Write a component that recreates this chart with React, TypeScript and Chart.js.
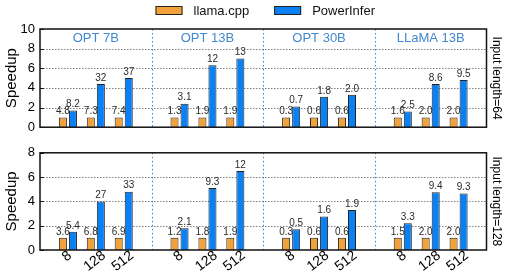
import React, { useEffect, useRef } from 'react';
import { Chart, registerables } from 'chart.js';

Chart.register(...registerables);

const FONT = '"Liberation Sans", Arial, Helvetica, sans-serif';

const models = ['OPT 7B', 'OPT 13B', 'OPT 30B', 'LLaMA 13B'];
const outputLengths = ['8', '128', '512'];
const seriesNames = ['llama.cpp', 'PowerInfer'];
const seriesColors = ['#f2a23a', '#0a80f5'];

// Input length = 64 (speedup relative to llama.cpp, labels are tokens/s)
const llamaSpeedup64 = [1, 1, 1, 1, 1, 1, 1, 1, 1, 1, 1, 1];
const powerInferSpeedup64 = [1.7, 4.4, 5.0, 2.4, 6.3, 7.0, 2.1, 3.1, 3.3, 1.6, 4.4, 4.8];
const llamaTokens64 = ['4.8', '7.3', '7.4', '1.3', '1.9', '1.9', '0.3', '0.6', '0.6', '1.6', '2.0', '2.0'];
const powerInferTokens64 = ['8.2', '32', '37', '3.1', '12', '13', '0.7', '1.8', '2.0', '2.5', '8.6', '9.5'];
const yTicks64 = [0, 2, 4, 6, 8, 10];

// Input length = 128
const llamaSpeedup128 = [1, 1, 1, 1, 1, 1, 1, 1, 1, 1, 1, 1];
const powerInferSpeedup128 = [1.5, 4.0, 4.8, 1.8, 5.1, 6.5, 1.7, 2.75, 3.3, 2.2, 4.75, 4.65];
const llamaTokens128 = ['3.6', '6.8', '6.9', '1.2', '1.8', '1.9', '0.3', '0.6', '0.6', '1.5', '2.0', '2.0'];
const powerInferTokens128 = ['5.4', '27', '33', '2.1', '9.3', '12', '0.5', '1.6', '1.9', '3.3', '9.4', '9.3'];
const yTicks128 = [0, 2, 4, 6, 8];

// slots: one empty boundary slot before each model group and one at the very end
function buildSlotLabels(): string[] {
  const out: string[] = [];
  models.forEach(() => {
    out.push('');
    outputLengths.forEach((l) => out.push(l));
  });
  out.push('');
  return out;
}
function spread<T>(values: T[]): (T | null)[] {
  const out: (T | null)[] = [];
  models.forEach((_, g) => {
    out.push(null);
    outputLengths.forEach((_, k) => out.push(values[g * outputLengths.length + k]));
  });
  out.push(null);
  return out;
}

type PanelProps = {
  top: number;
  height: number;
  padTop: number;
  padBottom: number;
  llama: number[];
  pi: number[];
  llamaLbl: string[];
  piLbl: string[];
  yTicks: number[];
  rightLabel: string;
  showLegend: boolean;
  showTitles: boolean;
  showX: boolean;
};

function Panel(p: PanelProps) {
  const ref = useRef<HTMLCanvasElement>(null);
  useEffect(() => {
    const slotLabels = buildSlotLabels();
    const yMax = p.yTicks[p.yTicks.length - 1];
    const groupSize = outputLengths.length + 1;

    const decor = {
      id: 'decor',
      beforeDatasetsDraw(chart: any) {
        const { ctx, chartArea: a, scales } = chart;
        const x = scales.x, y = scales.y;
        ctx.save();
        ctx.lineWidth = 1;
        ctx.strokeStyle = '#808080';
        ctx.setLineDash([1.5, 1.5]);
        p.yTicks.forEach((t) => {
          if (t === 0 || t === yMax) return;
          const py = Math.round(y.getPixelForValue(t)) + 0.5;
          ctx.beginPath();
          ctx.moveTo(a.left, py);
          ctx.lineTo(a.right, py);
          ctx.stroke();
        });
        ctx.strokeStyle = '#3b84cc';
        ctx.setLineDash([1.5, 2.5]);
        for (let g = 1; g < models.length; g++) {
          const px = Math.round(x.getPixelForValue(g * groupSize)) + 0.5;
          ctx.beginPath();
          ctx.moveTo(px, a.top);
          ctx.lineTo(px, a.bottom);
          ctx.stroke();
        }
        ctx.restore();
      },
      afterDatasetsDraw(chart: any) {
        const { ctx, chartArea: a, scales } = chart;
        const x = scales.x, y = scales.y;
        ctx.save();
        // value labels
        ctx.font = `10px ${FONT}`;
        ctx.fillStyle = '#2a2a2a';
        ctx.textAlign = 'center';
        ctx.textBaseline = 'bottom';
        chart.data.datasets.forEach((ds: any, i: number) => {
          const meta = chart.getDatasetMeta(i);
          meta.data.forEach((el: any, j: number) => {
            const lbl = ds.valueLabels[j];
            if (!lbl) return;
            ctx.fillText(lbl, el.x, el.y - 1);
          });
        });
        // frame
        ctx.strokeStyle = '#111';
        ctx.lineWidth = 1.5;
        ctx.strokeRect(a.left, a.top, a.right - a.left, a.bottom - a.top);
        // inward ticks
        ctx.lineWidth = 1;
        p.yTicks.forEach((t) => {
          const py = Math.round(y.getPixelForValue(t)) + 0.5;
          ctx.beginPath();
          ctx.moveTo(a.left, py);
          ctx.lineTo(a.left + 4, py);
          ctx.stroke();
        });
        // group titles
        if (p.showTitles) {
          ctx.font = `13px ${FONT}`;
          ctx.fillStyle = '#4288cc';
          ctx.textBaseline = 'middle';
          ctx.textAlign = 'center';
          models.forEach((m, g) => {
            const cx = (x.getPixelForValue(g * groupSize) + x.getPixelForValue((g + 1) * groupSize)) / 2;
            ctx.fillText(m, cx, a.top + 9);
          });
        }
        // right label
        ctx.save();
        ctx.font = `12px ${FONT}`;
        ctx.fillStyle = '#000';
        ctx.textAlign = 'center';
        ctx.textBaseline = 'middle';
        ctx.translate(a.right + 10, (a.top + a.bottom) / 2);
        ctx.rotate(Math.PI / 2);
        ctx.fillText(p.rightLabel, 0, 0);
        ctx.restore();
        // x labels
        if (p.showX) {
          ctx.font = `14px ${FONT}`;
          ctx.fillStyle = '#000';
          ctx.textAlign = 'center';
          ctx.textBaseline = 'middle';
          const ang = (38 * Math.PI) / 180;
          slotLabels.forEach((l, i) => {
            if (!l) return;
            const w = ctx.measureText(l).width;
            ctx.save();
            ctx.translate(x.getPixelForValue(i) - 1, a.bottom + 4 + (w / 2) * Math.sin(ang));
            ctx.rotate(-ang);
            ctx.fillText(l, 0, 0);
            ctx.restore();
          });
        }
        // legend
        if (p.showLegend) {
          ctx.font = `13px ${FONT}`;
          ctx.textAlign = 'left';
          ctx.textBaseline = 'middle';
          const boxW = 27, boxH = 9, gapText = 11, gapItem = 25;
          const widths = seriesNames.map((s) => boxW + gapText + ctx.measureText(s).width);
          const total = widths.reduce((s, v) => s + v, 0) + gapItem * (seriesNames.length - 1);
          let cx = (a.left + a.right) / 2 - total / 2 + 2;
          const cy = 10.5;
          seriesNames.forEach((s, i) => {
            ctx.fillStyle = seriesColors[i];
            ctx.fillRect(cx, cy - boxH / 2, boxW, boxH);
            ctx.strokeStyle = '#222';
            ctx.lineWidth = 1;
            ctx.strokeRect(cx + 0.5, cy - boxH / 2 + 0.5, boxW - 1, boxH - 1);
            ctx.fillStyle = '#111';
            ctx.fillText(s, cx + boxW + gapText, cy + 0.5);
            cx += widths[i] + gapItem;
          });
        }
        ctx.restore();
      },
    };

    const chart = new Chart(ref.current as HTMLCanvasElement, {
      type: 'bar',
      data: {
        labels: slotLabels,
        datasets: [
          {
            label: seriesNames[0],
            data: spread(p.llama),
            valueLabels: spread(p.llamaLbl),
            backgroundColor: seriesColors[0],
            borderColor: '#222',
            borderWidth: 1,
            categoryPercentage: 0.72,
            barPercentage: 0.8,
          } as any,
          {
            label: seriesNames[1],
            data: spread(p.pi),
            valueLabels: spread(p.piLbl),
            backgroundColor: seriesColors[1],
            borderColor: '#222',
            borderWidth: 1,
            categoryPercentage: 0.72,
            barPercentage: 0.8,
          } as any,
        ],
      },
      options: {
        animation: false,
        responsive: false,
        devicePixelRatio: 1,
        layout: { padding: { top: p.padTop, bottom: p.padBottom, left: 0, right: 18.5 } },
        plugins: { legend: { display: false }, tooltip: { enabled: false } },
        scales: {
          x: {
            type: 'category',
            offset: false,
            display: false,
            grid: { display: false },
          },
          y: {
            min: 0,
            max: yMax,
            afterBuildTicks: (s: any) => {
              s.ticks = p.yTicks.map((v) => ({ value: v }));
            },
            afterFit: (s: any) => {
              s.width = 40;
            },
            ticks: { font: { family: FONT, size: 13 }, color: '#000', padding: 5 },
            grid: { display: false, drawTicks: false },
            border: { display: false },
            title: {
              display: true,
              text: 'Speedup',
              font: { family: FONT, size: 15 },
              color: '#000',
              padding: { top: 3, bottom: 0 },
            },
          },
        },
      } as any,
      plugins: [decor],
    });
    return () => chart.destroy();
  }, []);
  return (
    <canvas
      ref={ref}
      width={505}
      height={p.height}
      style={{ position: 'absolute', left: 0, top: p.top, width: 505, height: p.height, display: 'block' }}
    />
  );
}

export default function App() {
  return (
    <div style={{ position: 'absolute', left: 0, top: 0, width: 505, height: 273, background: '#fff', overflow: 'hidden' }}>
      <Panel
        top={0}
        height={140}
        padTop={29}
        padBottom={11}
        llama={llamaSpeedup64}
        pi={powerInferSpeedup64}
        llamaLbl={llamaTokens64}
        piLbl={powerInferTokens64}
        yTicks={yTicks64}
        rightLabel="Input length=64"
        showLegend={true}
        showTitles={true}
        showX={false}
      />
      <Panel
        top={140}
        height={133}
        padTop={10}
        padBottom={23}
        llama={llamaSpeedup128}
        pi={powerInferSpeedup128}
        llamaLbl={llamaTokens128}
        piLbl={powerInferTokens128}
        yTicks={yTicks128}
        rightLabel="Input length=128"
        showLegend={false}
        showTitles={false}
        showX={true}
      />
    </div>
  );
}
